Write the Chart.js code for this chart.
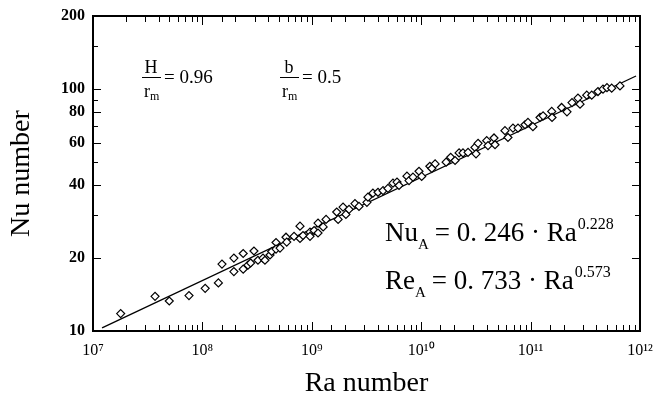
<!DOCTYPE html>
<html>
<head>
<meta charset="utf-8">
<script src="https://cdn.jsdelivr.net/npm/chart.js@4.4.1/dist/chart.umd.min.js"></script>
<style>
	body { margin: 0; background: #fff; }
</style>
</head>
<body>
<canvas id="myChart" width="655" height="400"></canvas>
<script>
/* Data */
const raValues = [
	1.79e7, 3.69e7, 4.98e7, 7.54e7, 1.06e8, 1.40e8, 1.51e8, 1.94e8, 1.94e8, 2.36e8,
	2.36e8, 2.61e8, 2.76e8, 2.96e8, 3.22e8, 3.58e8, 3.73e8, 4.15e8, 4.30e8, 4.71e8,
	4.71e8, 5.12e8, 5.81e8, 5.90e8, 6.88e8, 7.80e8, 7.80e8, 8.31e8, 9.63e8, 9.63e8,
	1.05e9, 1.14e9, 1.14e9, 1.27e9, 1.35e9, 1.69e9, 1.74e9, 1.93e9, 2.05e9, 2.19e9,
	2.48e9, 2.70e9, 3.19e9, 3.26e9, 3.62e9, 4.03e9, 4.48e9, 4.97e9, 5.52e9, 6.01e9,
	6.27e9, 7.41e9, 7.74e9, 8.41e9, 9.55e9, 1.01e10, 1.20e10, 1.34e10, 1.25e10, 1.69e10,
	1.86e10, 2.04e10, 2.22e10, 2.41e10, 2.68e10, 3.10e10, 3.17e10, 3.31e10, 3.97e10, 4.08e10,
	4.63e10, 4.73e10, 5.83e10, 6.21e10, 6.90e10, 7.67e10, 8.89e10, 9.46e10, 1.05e11, 1.22e11,
	1.30e11, 1.56e11, 1.57e11, 1.92e11, 2.15e11, 2.39e11, 2.71e11, 2.83e11, 3.26e11, 3.62e11,
	4.13e11, 4.59e11, 4.99e11, 5.51e11, 6.56e11,
]
const nuValues = [
	11.8, 13.9, 13.3, 14.0, 15.0, 15.8, 18.9, 20.0, 17.6, 20.9,
	18.0, 18.7, 19.1, 21.4, 19.6, 20.0, 19.6, 20.6, 21.3, 23.2,
	21.8, 22.0, 24.4, 23.3, 24.6, 27.1, 24.1, 24.8, 25.6, 24.6,
	26.0, 27.9, 25.4, 26.9, 28.9, 31.0, 28.9, 32.5, 30.3, 31.8,
	33.6, 32.7, 34.0, 35.7, 37.1, 37.4, 38.0, 38.8, 40.8, 41.2,
	39.9, 43.6, 41.8, 43.2, 45.7, 43.5, 47.9, 49.0, 46.9, 49.8,
	52.2, 50.6, 54.4, 54.4, 54.7, 57.3, 53.9, 59.6, 61.1, 58.3,
	62.7, 58.8, 67.2, 63.0, 68.9, 68.9, 71.1, 72.7, 69.8, 76.2,
	77.4, 80.7, 76.2, 83.8, 80.4, 87.8, 91.6, 86.5, 94.2, 94.2,
	97.5, 99.7, 101.2, 100.7, 102.9,
]

/* Fitted line, end points */
const fitRa = [1.21e7, 9.2e11]
const fitNu = [10.3, 113]

/* Tick labels */
const yTickLabels = [10, 20, 40, 60, 80, 100, 200]
const xTickExponents = [7, 8, 9, 10, 11, 12]

const supDigits = { '0': '⁰', '1': '¹', '2': '²', '3': '³', '4': '⁴', '5': '⁵', '6': '⁶', '7': '⁷', '8': '⁸', '9': '⁹' }
function toSup(n) {
	return String(n).split('').map(d => supDigits[d]).join('')
}
function powerOfTen(v) {
	const e = Math.round(Math.log10(v))
	return Math.abs(v - Math.pow(10, e)) / v < 1e-6 ? e : null
}

const serif = '"Liberation Serif", "Times New Roman", serif'

/* Frame and inward ticks */
const frame = {
	id: 'frame',
	afterDatasetsDraw(chart) {
		const { ctx, chartArea: a, scales } = chart
		ctx.save()
		ctx.strokeStyle = '#000'
		ctx.lineWidth = 1
		scales.x.ticks.forEach(t => {
			const px = Math.round(scales.x.getPixelForValue(t.value)) + 0.5
			const len = xTickExponents.includes(powerOfTen(t.value)) ? 9 : 6
			ctx.beginPath()
			ctx.moveTo(px, a.bottom)
			ctx.lineTo(px, a.bottom - len)
			ctx.moveTo(px, a.top)
			ctx.lineTo(px, a.top + len)
			ctx.stroke()
		})
		scales.y.ticks.forEach(t => {
			const py = Math.round(scales.y.getPixelForValue(t.value)) + 0.5
			const len = yTickLabels.includes(t.value) ? 8 : 5
			ctx.beginPath()
			ctx.moveTo(a.left, py)
			ctx.lineTo(a.left + len, py)
			ctx.moveTo(a.right, py)
			ctx.lineTo(a.right - len, py)
			ctx.stroke()
		})
		ctx.lineWidth = 2
		ctx.strokeRect(a.left, a.top, a.right - a.left, a.bottom - a.top)
		ctx.restore()
	},
}

/* Text inside the plot */
function drawParts(ctx, x, parts) {
	parts.forEach(p => {
		ctx.font = p.size + 'px ' + serif
		ctx.fillText(p.text, x, p.y)
		x += ctx.measureText(p.text).width + (p.gap || 0)
	})
}

function drawFraction(ctx, cx, top, eqText) {
	ctx.font = '18px ' + serif
	ctx.textAlign = 'center'
	ctx.fillText(top, cx, 73)
	ctx.textAlign = 'left'
	ctx.fillText('r', cx - 7, 97)
	ctx.font = '12px ' + serif
	ctx.fillText('m', cx - 1, 100)
	ctx.beginPath()
	ctx.moveTo(cx - 9, 77.5)
	ctx.lineTo(cx + 10, 77.5)
	ctx.lineWidth = 1
	ctx.stroke()
	ctx.font = '19px ' + serif
	ctx.fillText(eqText, cx + 13, 83)
}

const notes = {
	id: 'notes',
	afterDraw(chart) {
		const ctx = chart.ctx
		ctx.save()
		ctx.fillStyle = '#000'
		ctx.strokeStyle = '#000'
		ctx.textBaseline = 'alphabetic'
		drawFraction(ctx, 151, 'H', '= 0.96')
		drawFraction(ctx, 289, 'b', '= 0.5')
		drawParts(ctx, 385, [
			{ text: 'Nu', size: 27, y: 241 },
			{ text: 'A', size: 15, y: 249, gap: 6 },
			{ text: '= 0. 246 · Ra', size: 27, y: 241, gap: 1 },
			{ text: '0.228', size: 16, y: 229 },
		])
		drawParts(ctx, 385, [
			{ text: 'Re', size: 27, y: 289 },
			{ text: 'A', size: 15, y: 297, gap: 6 },
			{ text: '= 0. 733 · Ra', size: 27, y: 289, gap: 1 },
			{ text: '0.573', size: 16, y: 277 },
		])
		ctx.restore()
	},
}

const points = raValues.map((ra, i) => ({ x: ra, y: nuValues[i] }))
const fitLine = fitRa.map((ra, i) => ({ x: ra, y: fitNu[i] }))

const ctx = document.getElementById('myChart')

new Chart(ctx, {
	type: 'scatter',
	data: {
		datasets: [
			{
				label: 'Nu',
				data: points,
				pointStyle: 'rectRot',
				pointRadius: 4,
				pointBorderWidth: 1.2,
				borderColor: '#000',
				backgroundColor: '#fff',
			},
			{
				label: 'fit',
				type: 'line',
				data: fitLine,
				borderColor: '#000',
				borderWidth: 1.3,
				pointRadius: 0,
				showLine: true,
			},
		],
	},
	options: {
		responsive: false,
		animation: false,
		layout: {
			padding: { left: 0, right: 15, top: 16, bottom: 0 },
		},
		plugins: {
			legend: { display: false },
			tooltip: { enabled: false },
		},
		scales: {
			x: {
				type: 'logarithmic',
				min: 1e7,
				max: 1e12,
				grid: { display: false, drawTicks: false },
				border: { display: false },
				ticks: {
					autoSkip: false,
					maxRotation: 0,
					padding: 10,
					color: '#000',
					font: { family: serif, size: 16 },
					callback: value => {
						const e = powerOfTen(value)
						return xTickExponents.includes(e) ? '10' + toSup(e) : ''
					},
				},
				title: {
					display: true,
					text: 'Ra number',
					color: '#000',
					font: { family: serif, size: 28 },
					padding: { top: 0, bottom: 0 },
				},
				afterFit: scale => {
					scale.height = 69
					scale.paddingLeft = 0
					scale.paddingRight = 0
				},
			},
			y: {
				type: 'logarithmic',
				min: 10,
				max: 200,
				grid: { display: false, drawTicks: false },
				border: { display: false },
				ticks: {
					autoSkip: false,
					padding: 8,
					color: '#000',
					font: { family: serif, size: 16, weight: 'bold' },
					callback: value => (yTickLabels.includes(value) ? String(value) : ''),
				},
				title: {
					display: true,
					text: 'Nu number',
					color: '#000',
					font: { family: serif, size: 28 },
					padding: { top: 5, bottom: 0 },
				},
				afterFit: scale => {
					scale.width = 93
					scale.paddingTop = 0
					scale.paddingBottom = 0
				},
			},
		},
	},
	plugins: [frame, notes],
})
</script>
</body>
</html>
